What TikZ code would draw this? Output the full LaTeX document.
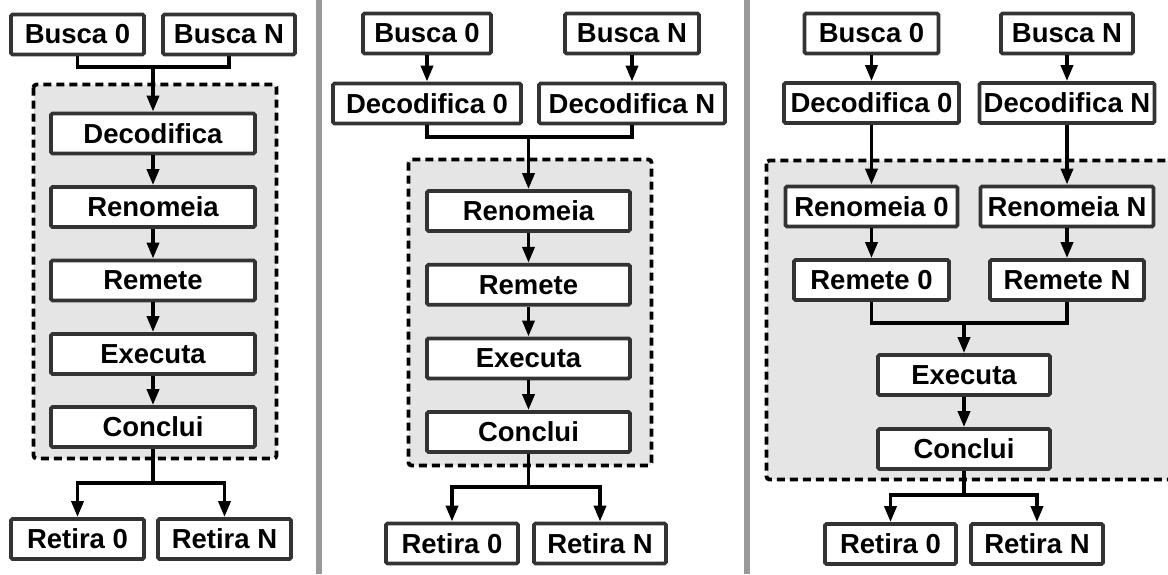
\documentclass[tikz,border=0pt]{standalone}
\usepackage{fontspec}
\setmainfont{Liberation Sans}
\usetikzlibrary{arrows.meta}
\begin{document}
\begin{tikzpicture}[x=1pt,y=-1pt,
  stage/.style={draw=black!80, fill=white, line width=3.8pt, rounded corners=1.5pt,
    inner sep=0pt, minimum height=40pt, align=center,
    font=\fontsize{27.5pt}{30pt}\selectfont\bfseries},
  wire/.style={draw=black, line width=3.6pt},
  arr/.style={wire, -{Triangle[length=16pt,width=12pt]}},
  group/.style={draw=black, line width=3.8pt, fill=black!10, dash pattern=on 8pt off 5pt, rounded corners=3pt},
  sep/.style={draw=black!40, line width=6pt}]
\useasboundingbox (0,0) rectangle (1168,574);
\clip (0,0) rectangle (1168,574);
\fill[white] (0,0) rectangle (1168,574);
% separators
\draw[sep] (318.5,0) -- (318.5,574);
\draw[sep] (746.5,0) -- (746.5,574);
% groups
\draw[group] (33.5,84.5) rectangle (276.5,458.5);
\draw[group] (408.5,159.5) rectangle (651.5,465.5);
\draw[group] (766.5,160.5) rectangle (1190,479.5);

% ---------- panel 1 ----------
\node[stage, minimum width=133pt] (a-b0) at (77.5,34.5) {Busca 0};
\node[stage, minimum width=132pt] (a-bN) at (229,34.5) {Busca N};
\node[stage, minimum width=204pt] (a-dec) at (153,133.5) {Decodifica};
\node[stage, minimum width=204pt] (a-ren) at (153,207) {Renomeia};
\node[stage, minimum width=204pt] (a-rem) at (153,280.5) {Remete};
\node[stage, minimum width=204pt] (a-exe) at (153,354) {Executa};
\node[stage, minimum width=204pt] (a-con) at (153,427) {Conclui};
\node[stage, minimum width=133pt] (a-r0) at (77.5,539) {Retira 0};
\node[stage, minimum width=133pt] (a-rN) at (224.5,539) {Retira N};
\coordinate (a-j) at (153,67);
\coordinate (a-k) at (153,483);
\draw[wire] (a-b0.south) |- (a-j) -| (a-bN.south);
\draw[arr] (a-j) -- (a-dec.north);
\draw[arr] (a-dec) -- (a-ren);
\draw[arr] (a-ren) -- (a-rem);
\draw[arr] (a-rem) -- (a-exe);
\draw[arr] (a-exe) -- (a-con);
\draw[wire] (a-con.south) -- (a-k);
\draw[arr] (a-k) -| (a-r0.north);
\draw[arr] (a-k) -| (a-rN.north);

% ---------- panel 2 ----------
\node[stage, minimum width=128pt] (b-b0) at (427,33.5) {Busca 0};
\node[stage, minimum width=134pt] (b-bN) at (632,33.5) {Busca N};
\node[stage, minimum width=188pt] (b-d0) at (427,103.5) {Decodifica 0};
\node[stage, minimum width=186pt] (b-dN) at (632,103.5) {Decodifica N};
\node[stage, minimum width=203pt] (b-ren) at (528.5,211) {Renomeia};
\node[stage, minimum width=203pt] (b-rem) at (528.5,284.7) {Remete};
\node[stage, minimum width=203pt] (b-exe) at (528.5,358.4) {Executa};
\node[stage, minimum width=203pt] (b-con) at (528.5,432) {Conclui};
\node[stage, minimum width=132pt] (b-r0) at (452,543.5) {Retira 0};
\node[stage, minimum width=132pt] (b-rN) at (600,543.5) {Retira N};
\coordinate (b-j) at (528.5,137);
\coordinate (b-k) at (528.5,487);
\draw[arr] (b-b0) -- (b-d0);
\draw[arr] (b-bN) -- (b-dN);
\draw[wire] (b-d0.south) |- (b-j) -| (b-dN.south);
\draw[arr] (b-j) -- (b-ren.north);
\draw[arr] (b-ren) -- (b-rem);
\draw[arr] (b-rem) -- (b-exe);
\draw[arr] (b-exe) -- (b-con);
\draw[wire] (b-con.south) -- (b-k);
\draw[arr] (b-k) -| (b-r0.north);
\draw[arr] (b-k) -| (b-rN.north);

% ---------- panel 3 ----------
\node[stage, minimum width=134pt] (c-b0) at (871.5,33.5) {Busca 0};
\node[stage, minimum width=132pt] (c-bN) at (1067,33.5) {Busca N};
\node[stage, minimum width=175pt] (c-d0) at (871.5,103) {Decodifica 0};
\node[stage, minimum width=175pt] (c-dN) at (1067,103) {Decodifica N};
\node[stage, minimum width=172pt] (c-n0) at (871.5,206.5) {Renomeia 0};
\node[stage, minimum width=173pt] (c-nN) at (1067,206.5) {Renomeia N};
\node[stage, minimum width=155pt] (c-m0) at (871.5,280) {Remete 0};
\node[stage, minimum width=154pt] (c-mN) at (1067,280) {Remete N};
\node[stage, minimum width=172pt] (c-exe) at (964,375) {Executa};
\node[stage, minimum width=172pt] (c-con) at (964,449) {Conclui};
\node[stage, minimum width=131pt] (c-r0) at (890.5,544) {Retira 0};
\node[stage, minimum width=132pt] (c-rN) at (1037,544) {Retira N};
\coordinate (c-j) at (964,323);
\coordinate (c-k) at (964,495);
\draw[arr] (c-b0) -- (c-d0);
\draw[arr] (c-bN) -- (c-dN);
\draw[arr] (c-d0) -- (c-n0);
\draw[arr] (c-dN) -- (c-nN);
\draw[arr] (c-n0) -- (c-m0);
\draw[arr] (c-nN) -- (c-mN);
\draw[wire] (c-m0.south) |- (c-j) -| (c-mN.south);
\draw[arr] (c-j) -- (c-exe.north);
\draw[arr] (c-exe) -- (c-con);
\draw[wire] (c-con.south) -- (c-k);
\draw[arr] (c-k) -| (c-r0.north);
\draw[arr] (c-k) -| (c-rN.north);
\end{tikzpicture}
\end{document}
